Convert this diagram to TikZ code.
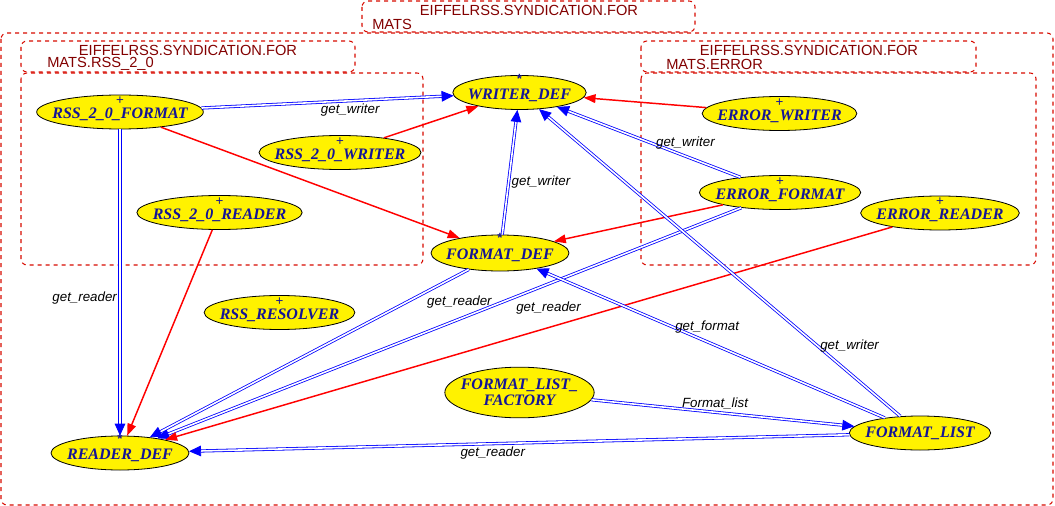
\documentclass[tikz,border=0pt]{standalone}
\usepackage{fontspec}
\setmainfont{Liberation Serif}
\setsansfont{Liberation Sans}
\usepackage{xcolor}
\usepackage{tikz}
\usetikzlibrary{arrows.meta,shapes.geometric}

\definecolor{pkgred}{RGB}{215,10,0}
\definecolor{pkgtext}{RGB}{130,0,0}
\definecolor{clsblue}{RGB}{20,20,150}

\begin{document}
\begin{tikzpicture}[
  x=0.75pt, y=-0.75pt,
  cls/.style={ellipse, draw=black, line width=0.6pt, fill=yellow, inner xsep=-20pt, inner ysep=0pt, minimum height=25.5pt, text=clsblue, font=\fontsize{12}{12}\selectfont\bfseries\itshape, align=center},
  sign/.style={font=\sffamily\fontsize{10}{10}\selectfont, text=clsblue, inner sep=0pt},
  effective/.style={text height=10pt, text depth=-0.5pt, label={[sign, anchor=north, yshift=-1.5pt]north:+}},
  deferred/.style={text height=10pt, text depth=-1pt, label={[sign, anchor=north, yshift=-0.5pt, text height=5.5pt, text depth=0pt, font=\sffamily\bfseries\fontsize{10}{10}\selectfont]north:*}},
  pkg/.style={draw=pkgred, dashed, line width=0.8pt, rounded corners=4.5pt},
  pkgname/.style={text=pkgtext, font=\sffamily\fontsize{11}{11}\selectfont, inner sep=0pt},
  lbl/.style={font=\sffamily\itshape\fontsize{10}{10}\selectfont, inner sep=2pt},
  client/.style={draw=blue, line width=0.6pt, double=white, double distance=1.2pt, -{Triangle[length=9pt, width=8pt]}},
  heir/.style={draw=red, line width=1.1pt, -{Triangle[length=9pt, width=6.5pt]}}
]
\useasboundingbox (0,0) rectangle (1055,506);
\draw[pkg] (362,1) rectangle (695,32);
\node[pkgname] (mats_top) at (529,10) {EIFFELRSS.SYNDICATION.FOR};
\node[pkgname, anchor=west] (mats_sub) at (372,24) {MATS};
\draw[pkg] (1,33) rectangle (1053,505);
\draw[pkg] (21,41) rectangle (355,72);
\node[pkgname] (rss_top) at (188,50) {EIFFELRSS.SYNDICATION.FOR};
\node[pkgname, anchor=west] (rss_sub) at (47,64) {MATS.RSS\_2\_0};
\draw[pkg] (21,73) rectangle (423,265);
\draw[pkg] (641,41) rectangle (976,72);
\node[pkgname] (err_top) at (809,50) {EIFFELRSS.SYNDICATION.FOR};
\node[pkgname, anchor=west] (err_sub) at (666,64) {MATS.ERROR};
\draw[pkg] (641,73) rectangle (1036,265);
\node[cls, effective, minimum width=125pt] (rss_fmt) at (120,112) {RSS\_2\_0\_FORMAT};
\node[cls, deferred, minimum width=100pt] (writer_def) at (519.5,92.5) {WRITER\_DEF};
\node[cls, effective, minimum width=121.5pt] (rss_wrt) at (340,152.5) {RSS\_2\_0\_WRITER};
\node[cls, effective, minimum width=124pt] (rss_rdr) at (219.5,212.5) {RSS\_2\_0\_READER};
\node[cls, effective, minimum width=113pt] (rss_res) at (279.5,312.5) {RSS\_RESOLVER};
\node[cls, deferred, minimum width=103.5pt, minimum height=27pt] (format_def) at (500,253) {FORMAT\_DEF};
\node[cls, effective, minimum width=116pt] (err_wrt) at (779.5,113.5) {ERROR\_WRITER};
\node[cls, effective, minimum width=121pt] (err_fmt) at (780,192.5) {ERROR\_FORMAT};
\node[cls, effective, minimum width=119pt] (err_rdr) at (940,213) {ERROR\_READER};
\node[cls, minimum width=112pt, minimum height=38pt] (list_fact) at (519.5,392.5) {FORMAT\_LIST\_\\FACTORY};
\node[cls, minimum width=106pt] (fmt_list) at (920,433) {FORMAT\_LIST};
\node[cls, deferred, minimum width=103.5pt] (reader_def) at (120,453) {READER\_DEF};
\draw[client] (rss_fmt) -- node[lbl, pos=0.59, below] {get\_writer} (writer_def);
\draw[client] (rss_fmt) -- node[lbl, pos=0.55, left] {get\_reader} (reader_def);
\draw[heir] (rss_fmt) -- (format_def);
\draw[heir] (rss_wrt) -- (writer_def);
\draw[heir] (rss_rdr) -- (reader_def);
\draw[heir] (err_wrt) -- (writer_def);
\draw[client] (err_fmt) -- node[lbl, pos=0.3, above=3pt] {get\_writer} (writer_def);
\draw[heir] (err_fmt) -- (format_def);
\draw[client] (err_fmt) -- node[lbl, pos=0.33, below=11pt] {get\_reader} (reader_def);
\draw[heir] (err_rdr) -- (reader_def);
\draw[client] (format_def) -- node[lbl, pos=0.42, right] {get\_writer} (writer_def);
\draw[client] (format_def) -- node[lbl, pos=0.14, below right] {get\_reader} (reader_def);
\draw[client] (fmt_list) -- node[lbl, pos=0.51, above=4pt] {get\_format} (format_def);
\draw[client] (fmt_list) -- node[lbl, pos=0.23, right] {get\_writer} (writer_def);
\draw[client] (fmt_list) -- node[lbl, pos=0.54, below] {get\_reader} (reader_def);
\draw[client] (list_fact) -- node[lbl, pos=0.47, above] {Format\_list} (fmt_list);
\end{tikzpicture}
\end{document}
